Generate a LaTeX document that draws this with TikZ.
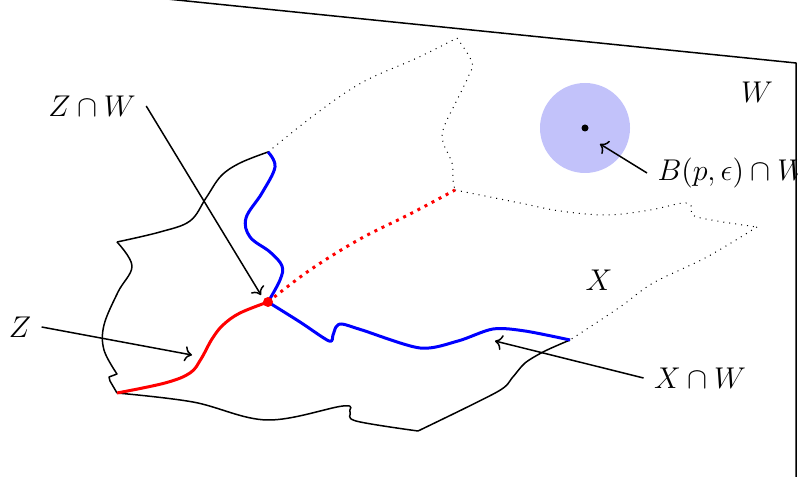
\documentclass[tikz,border=0pt]{standalone}
\usetikzlibrary{arrows.meta}
\definecolor{ballBlue}{HTML}{C2C2FA}

\begin{document}
\begin{tikzpicture}[
    x=0.4pt, y=-0.4pt,
    every node/.style={font=\large},
    % --- line styles ---
    edge/.style={semithick, line join=round},
    hidden/.style={thin, dotted},
    inW/.style={blue, very thick, line join=round},
    inZ/.style={red, very thick, line join=round},
    hiddenZ/.style={red, very thick, dotted},
    % --- annotation styles ---
    arr/.style={->, semithick},
    lbl/.style={inner sep=4pt},
]
\useasboundingbox (0,0) rectangle (798,477);

% ===== PLANE W ==============================================================
\draw[edge] (167,-1) -- (796,63) -- (796,490);
\node[lbl] (wlab) at (757,92) {$W$};

% -- ball around p --
\fill[ballBlue] (585,128) circle (18pt);
\fill (585,128) circle (1.4pt);
\coordinate (ballTip) at (600,144);

% ===== SET X ================================================================
\coordinate (top)  at (268,152);
\coordinate (p)    at (268,302);
\coordinate (farL) at (117,393);
\coordinate (farR) at (570,340);
\coordinate (back) at (455,190);

% -- solid part (below W) --
\draw[edge] plot[smooth, tension=0.6] coordinates
    {(top) (240,163) (221,176) (206,198) (190,221) (160,232) (117,242)};
\draw[edge] plot[smooth, tension=0.6] coordinates
    {(117,242) (132,266) (118,292) (104,325) (104,350) (117,374)}
    -- (109,377) -- (110,381) -- (farL);
\draw[edge] plot[smooth, tension=0.6] coordinates
    {(farL) (193,402) (267,420) (343,406) (350,412) (356,421) (418,431)};
\draw[edge] plot[smooth, tension=0.5] coordinates
    {(418,431) (497,392) (512,378) (525,363) (545,351) (farR)};

% -- dotted part (behind W) --
\draw[hidden] plot[smooth, tension=0.6] coordinates
    {(top) (317,113) (363,82) (417,58) (457,38)};
\draw[hidden] plot[smooth, tension=0.6] coordinates
    {(457,38) (472,62) (469,75) (457,100) (444,127) (443,142) (452,163) (453,180) (back)};
\draw[hidden] plot[smooth, tension=0.6] coordinates
    {(back) (520,203) (560,211) (607,215) (650,210) (683,203) (692,207) (697,217) (757,227)};
\draw[hidden] plot[smooth, tension=0.5] coordinates
    {(757,227) (707,257) (653,283) (620,307) (farR)};
\node[lbl] (xlab) at (599,280) {$X$};

% ===== X CAP W ==============================================================
\draw[inW] plot[smooth, tension=0.6] coordinates
    {(top) (275,167) (262,193) (246,218) (250,237) (270,252) (282,266) (280,280) (p)};
\draw[inW] plot[smooth, tension=0.5] coordinates
    {(p) (300,322) (329,341) (333,335) (336,327) (342,324) (362,330)
     (420,348) (458,341) (493,329) (525,331) (farR)};

% ===== SET Z ================================================================
\draw[inZ] plot[smooth, tension=0.6] coordinates
    {(p) (240,313) (223,325) (212,339) (201,359) (190,373) (165,383) (farL)};
\draw[hiddenZ] plot[smooth, tension=0.6] coordinates
    {(p) (310,270) (360,239) (410,214) (back)};
\fill[red] (p) circle (2pt);

% ===== LABELS ===============================================================
\node[lbl] (zw) at (92,106) {$Z\cap W$};
\node[lbl] (z) at (20,327) {$Z$};
\node[lbl] (xw) at (700,378) {$X\cap W$};
\node[lbl, anchor=west] (ball) at (647,173) {$B(p,\epsilon)\cap W$};

\coordinate (zwTip) at (261,295);
\coordinate (zTip) at (192,355);
\coordinate (xwTip) at (495,341);

\draw[arr] (zw.east) -- (zwTip);
\draw[arr] (z.east) -- (zTip);
\draw[arr] (xw.west) -- (xwTip);
\draw[arr] (ball.west) -- (ballTip);

\end{tikzpicture}
\end{document}
